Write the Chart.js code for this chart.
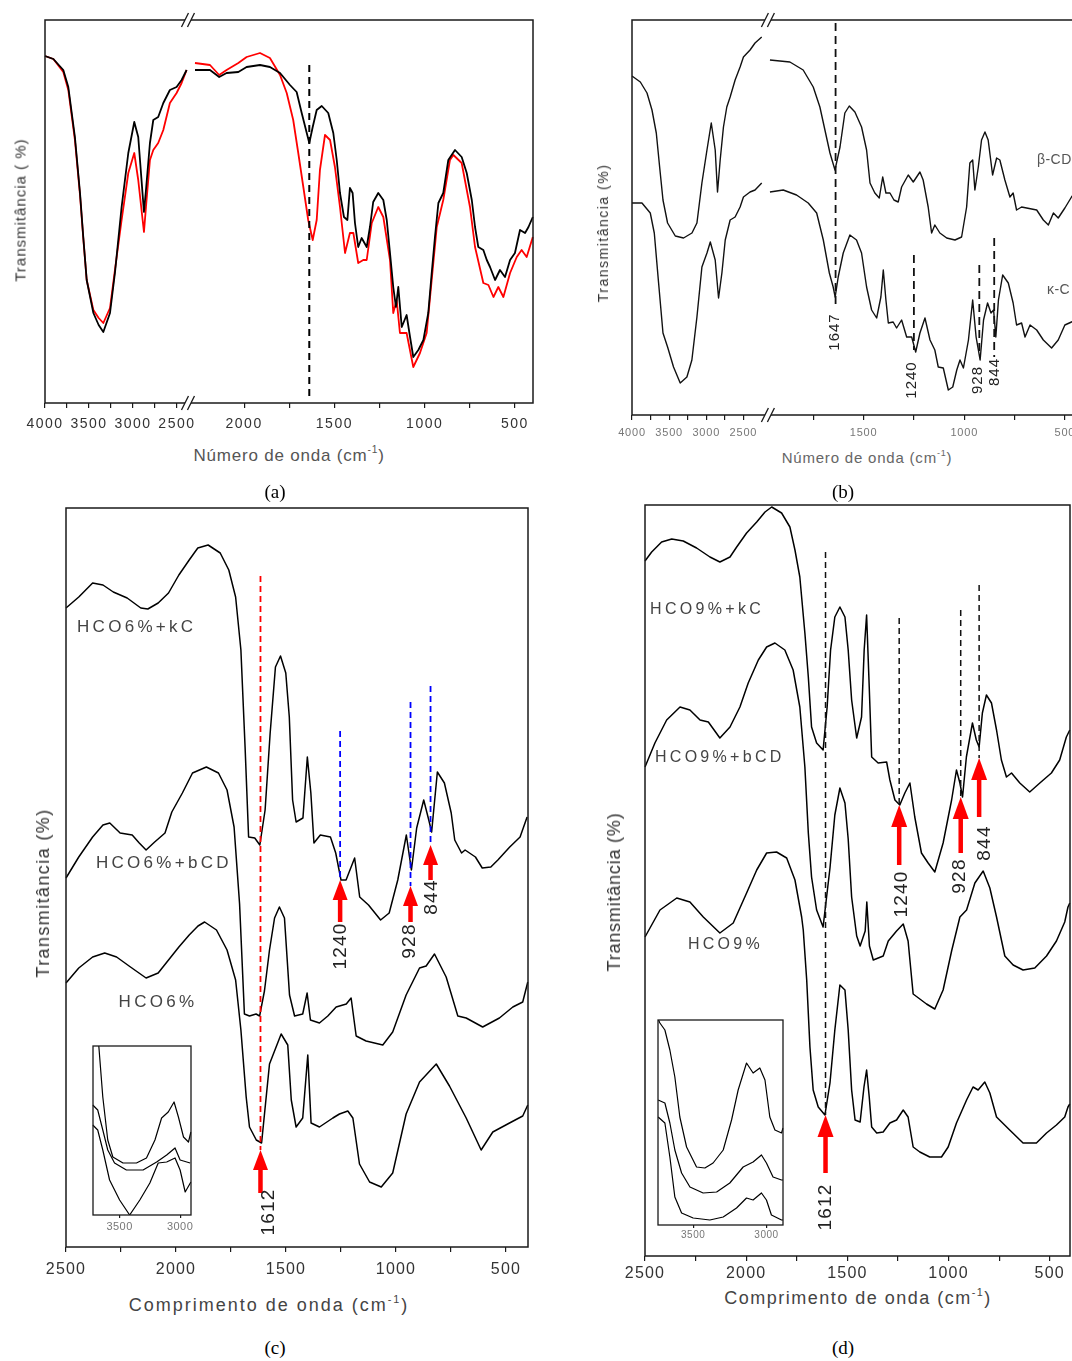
<!DOCTYPE html>
<html lang="pt"><head><meta charset="utf-8"><title>FTIR</title>
<script src="https://cdn.jsdelivr.net/npm/chart.js@4.4.1/dist/chart.umd.min.js"></script>
<style>
html,body{margin:0;padding:0;background:#fff;}
#fig{position:relative;width:1072px;height:1361px;overflow:hidden;background:#fff;}
canvas{position:absolute;}
.t{position:absolute;white-space:nowrap;font-family:"Liberation Sans",Arial,sans-serif;color:#333;line-height:1;transform:translate(-50%,-50%);}
.t sup{font-size:0.6em;line-height:0;vertical-align:0.7em;}
.rot{transform:translate(-50%,-50%) rotate(-90deg);}
.cap{position:absolute;font-family:"Liberation Serif","Times New Roman",serif;font-size:19px;color:#000;line-height:1;transform:translate(-50%,-50%);}
</style></head>
<body><div id="fig">
<canvas id="cA" width="545" height="440" style="left:0px;top:0px"></canvas>
<canvas id="cB" width="530" height="440" style="left:590px;top:0px"></canvas>
<canvas id="cC" width="545" height="800" style="left:0px;top:480px"></canvas>
<canvas id="cD" width="472" height="800" style="left:600px;top:480px"></canvas>
<canvas id="cCi" width="115" height="200" style="left:85px;top:1040px"></canvas>
<canvas id="cDi" width="145" height="240" style="left:650px;top:1010px"></canvas>

<div class="t rot" style="left:20px;top:210px;font-size:15px;letter-spacing:1px">Transmitância ( %)</div>
<div class="t" style="left:289px;top:455px;font-size:17px;color:#555;letter-spacing:0.8px">Número de onda (cm<sup>-1</sup>)</div>
<div class="cap" style="left:275px;top:491px">(a)</div>

<div class="t rot" style="left:603px;top:233px;font-size:14px;letter-spacing:1.5px">Transmitância (%)</div>
<div class="t" style="left:867px;top:457px;font-size:15px;color:#666;letter-spacing:0.8px">Número de onda (cm<sup>-1</sup>)</div>
<div class="cap" style="left:843px;top:491px">(b)</div>

<div class="t rot" style="left:43px;top:893px;font-size:18px;letter-spacing:1.4px">Transmitância (%)</div>
<div class="t" style="left:269px;top:1305px;font-size:18px;color:#444;letter-spacing:2px">Comprimento de onda (cm<sup>-1</sup>)</div>
<div class="cap" style="left:275px;top:1347px">(c)</div>

<div class="t rot" style="left:614px;top:892px;font-size:18px;letter-spacing:0.8px">Transmitância (%)</div>
<div class="t" style="left:858px;top:1298px;font-size:18px;color:#444;letter-spacing:1.5px">Comprimento de onda (cm<sup>-1</sup>)</div>
<div class="cap" style="left:843px;top:1347px">(d)</div>
</div>
<script>
// ================= DATA =================
// ---- panel (a): two spectra, broken wavenumber axis ----
const aTickValues = [4000,3750,3500,3250,3000,2750,2500,2000,1750,1500,1250,1000,750,500];
const aTickLabels = [4000,3500,3000,2500,2000,1500,1000,500];
const aWnLeft = [4000,3905,3792,3735,3660,3602,3565,3526,3450,3390,3337,3261,3205,3129,3053,2985,2940,2875,2852,2807,2769,2713,2655,2580,2504,2447,2390];
const aBlackLeft = [347,344,333,316,266,210,166,123,90,78,71,90,130,196,250,281,266,191,213,260,283,286,300,313,316,323,333];
const aRedLeft = [347,344,331,313,263,208,165,123,93,85,80,95,133,183,230,250,223,171,196,243,253,260,273,300,310,320,333];
const aWnRightBlack = [2272,2189,2138,2097,2032,1986,1912,1857,1801,1746,1709,1681,1653,1639,1620,1598,1570,1534,1506,1487,1469,1447,1428,1414,1399,1386,1368,1349,1321,1303,1285,1257,1229,1210,1192,1174,1159,1146,1127,1100,1081,1063,1035,1007,980,961,943,924,897,869,832,795,767,739,721,703,675,656,638,610,583,555,527,500,472,444,425,401];
const aBlackRight = [333,333,326,330,331,336,338,336,330,318,311,290,270,260,276,293,297,290,270,243,210,186,183,215,210,180,156,165,156,176,201,210,203,183,150,116,96,116,76,88,66,46,53,63,90,130,166,200,210,243,253,246,230,203,176,156,153,143,136,123,133,126,143,150,173,170,176,186];
const aWnRightRed = [2272,2189,2138,2097,2032,1986,1912,1857,1801,1764,1728,1700,1672,1645,1620,1598,1580,1552,1524,1497,1469,1441,1414,1395,1368,1340,1321,1293,1257,1229,1192,1174,1155,1137,1100,1063,1026,989,961,933,897,860,841,795,749,721,675,647,619,592,564,527,490,463,435,401];
const aRedRight = [340,338,328,333,340,346,350,345,328,310,283,250,216,183,163,183,233,268,263,236,196,150,170,170,140,143,143,180,196,186,143,90,103,70,70,36,50,70,123,176,203,243,248,240,196,156,120,118,106,116,106,130,146,153,146,166];
const aMarkWn = [1639], aMarkTop = [338], aMarkBottom = [6];

// ---- panel (b): beta-CD and kappa-C ----
const bTickValues = [4000,3750,3500,3250,3000,2750,2500,1750,1500,1250,1000,750,500];
const bTickLabels = [4000,3500,3000,2500,1500,1000,500];
const bWnBetaLeft = [4000,3888,3798,3731,3673,3628,3583,3521,3417,3306,3193,3126,3059,2991,2933,2880,2849,2813,2769,2724,2679,2612,2545,2500,2411,2344,2254];
const bBetaLeft = [339,333,322,305,282,248,215,192,179,177,182,192,232,265,292,265,223,255,288,308,318,335,348,358,365,372,378];
const bWnBetaRight = [1965,1866,1800,1750,1717,1692,1667,1642,1617,1593,1571,1543,1510,1485,1468,1444,1422,1405,1389,1369,1349,1328,1311,1278,1253,1220,1204,1179,1162,1146,1121,1087,1046,1013,988,972,958,947,930,914,897,881,859,839,823,798,773,757,740,715,690,640,607,582,557,533,500,467,420];
const bBetaRight = [355,353,345,328,308,285,262,245,268,302,309,303,288,265,232,222,217,238,222,222,215,213,228,240,233,243,235,208,182,190,182,177,175,178,208,252,255,225,248,275,283,275,240,257,255,235,218,222,205,208,207,205,195,190,202,197,207,218,230];
const bWnKappaLeft = [4000,3866,3754,3700,3642,3583,3521,3441,3351,3261,3194,3126,3059,2991,2946,2880,2835,2790,2745,2679,2612,2545,2500,2411,2344,2254];
const bKappaLeft = [212,212,202,182,132,82,68,48,32,38,55,98,148,162,173,155,117,142,175,195,198,208,218,223,225,232];
const bWnKappaRight = [1965,1899,1833,1775,1733,1700,1670,1651,1641,1626,1601,1568,1535,1510,1485,1460,1435,1414,1402,1389,1377,1353,1336,1311,1286,1261,1241,1220,1195,1170,1146,1129,1104,1079,1057,1037,1021,1004,979,958,941,921,904,884,867,854,843,830,809,781,757,740,715,698,673,640,607,566,533,500,467,420];
const bKappaRight = [223,225,220,212,202,175,142,128,118,138,162,180,175,162,128,105,97,118,145,115,92,93,87,95,78,78,63,82,97,75,65,48,47,25,28,45,55,47,75,115,78,55,95,112,102,105,78,115,140,132,112,90,92,78,90,85,75,67,75,90,93,100];
const bMarkWn = [1639,1250,925,851], bMarkTop = [392,160,150,177], bMarkBottom = [108,65,62,58];
const bPeakLabels = ['1647','1240','928','844'], bPeakLabelWn = [1642,1260,932,847], bPeakLabelVal = [83,35,35,43];
const bNames = ['β-CD','κ-C'], bNameWn = [639,589], bNameVal = [255,125];

// ---- panel (c): HCO 6% films ----
const cdTickValues = [2500,2250,2000,1750,1500,1250,1000,750,500];
const cdTickLabels = [2500,2000,1500,1000,500];
const cWnA = [2500,2442,2379,2332,2285,2222,2160,2128,2081,2034,1987,1940,1901,1854,1799,1760,1729,1705,1686,1670,1642,1619,1595,1572,1548,1525,1501,1485,1470,1454,1423,1403,1387,1373,1344,1298,1274,1250,1227,1188,1165,1125,1070,1031,992,953,930,906,874,851,838,812,780,749,733,702,686,639,608,569,537,483,436,404];
const cA = [639,650,664,662,655,649,639,638,644,654,672,687,699,702,694,677,650,597,500,410,409,402,437,514,580,591,574,530,447,425,429,490,454,404,412,410,394,367,367,389,350,342,327,334,367,412,377,419,447,427,415,475,464,434,407,394,397,390,379,380,387,400,410,430];
const cWnB = [2500,2442,2379,2332,2301,2254,2199,2167,2136,2097,2050,2019,1971,1925,1862,1807,1768,1736,1711,1689,1666,1636,1620,1598,1575,1552,1530,1507,1484,1461,1424,1404,1389,1348,1310,1272,1226,1204,1181,1136,1060,1015,954,893,863,825,772,719,681,606,530,469,424,401];
const cB = [369,390,410,422,424,414,412,404,397,405,414,435,454,474,480,474,457,420,343,233,231,233,231,256,297,329,340,329,252,231,233,254,227,224,231,240,243,249,211,206,202,215,252,279,281,293,270,231,229,220,229,240,245,265];
const cWnC = [2500,2442,2379,2324,2270,2207,2136,2081,2034,1987,1940,1900,1870,1816,1768,1729,1705,1681,1666,1635,1611,1575,1522,1492,1476,1454,1424,1401,1386,1348,1287,1257,1219,1196,1166,1120,1067,1015,954,893,817,757,681,613,560,484,424,401];
const cC = [264,279,290,294,290,280,269,274,287,300,312,321,325,317,297,267,217,150,120,107,104,183,213,202,147,120,129,192,124,120,129,133,136,129,83,65,60,74,133,165,183,161,129,97,115,124,131,142];
const cNames = ['HCO6%+kC','HCO6%+bCD','HCO6%'], cNameWn = [2450,2364,2261], cNameVal = [620,384,245];
const peakLabels = ['1612','1240','928','844'];
const cMarkWn = [1616,1254,934,843], cMarkTop = [671,516,545,561];
const cArrowTip = [97,367,361,402], cArrowTail = [54,325,325,367];
const cLabelWn = [1580,1252,939,836], cLabelVal = [35,301,306,350];
// inset (c): 3700-2900 cm-1 region
const ciTickValues = [3500,3000], ciTickLabels = [3500,3000];
const ciWn1 = [3700,3672,3639,3598,3556,3472,3361,3278,3208,3153,3098,3050,3014,2972,2931,2911];
const ciS1 = [212,169,118,75,58,52,52,57,75,97,103,113,98,78,73,83];
const ciWn2 = [3722,3681,3639,3598,3542,3444,3306,3194,3111,3042,3000,2917];
const ciS2 = [110,105,85,65,52,45,45,53,60,67,55,52];
const ciWn3 = [3722,3681,3639,3583,3500,3417,3333,3250,3181,3111,3042,3000,2958,2911];
const ciS3 = [90,85,65,35,15,0,15,32,52,53,57,45,23,33];

// ---- panel (d): HCO 9% films ----
const dWnA = [2500,2467,2418,2368,2311,2245,2179,2130,2080,2047,1998,1948,1907,1874,1825,1784,1759,1735,1710,1693,1677,1652,1620,1600,1583,1562,1537,1512,1496,1479,1454,1430,1417,1405,1392,1380,1348,1306,1290,1265,1241,1216,1191,1167,1134,1101,1068,1027,985,961,944,931,912,882,863,849,833,813,788,763,739,714,689,648,599,549,492,451,418,401];
const dA = [695,704,714,717,715,708,699,694,699,709,723,734,744,749,743,729,706,679,623,579,529,513,506,549,606,639,649,639,606,556,518,539,606,641,569,499,493,494,476,456,451,463,473,439,403,393,384,413,456,486,473,459,499,533,516,509,543,561,553,526,496,479,483,473,464,473,483,496,519,526];
const dWnB = [2500,2451,2393,2327,2278,2228,2187,2130,2080,2031,1990,1940,1899,1858,1809,1768,1735,1710,1693,1677,1652,1620,1586,1562,1537,1512,1496,1479,1454,1437,1412,1404,1391,1372,1323,1298,1257,1224,1200,1175,1142,1109,1068,1027,985,944,911,870,829,796,763,722,681,632,574,516,467,426,410,401];
const dB = [489,513,536,549,546,536,534,518,529,549,573,596,609,613,606,586,549,489,423,379,346,329,388,441,468,453,417,359,320,310,325,354,310,296,300,315,325,332,315,262,257,252,247,266,305,339,346,373,385,368,339,300,291,286,288,300,315,334,349,353];
const dWnC = [2500,2426,2343,2278,2212,2130,2064,1998,1948,1899,1850,1800,1759,1726,1718,1701,1685,1669,1644,1611,1586,1562,1537,1512,1496,1479,1462,1437,1418,1405,1392,1380,1355,1323,1290,1257,1224,1200,1175,1142,1093,1035,1002,961,911,879,854,821,796,763,698,632,566,516,467,426,410,401];
const dC = [319,346,358,354,339,323,333,363,386,403,404,398,376,339,326,276,209,166,149,141,173,226,271,266,226,166,136,134,169,186,159,129,123,124,133,136,146,139,109,104,99,99,109,133,156,169,166,174,163,139,126,113,113,123,131,139,149,152];
const dNames = ['HCO9%+kC','HCO9%+bCD','HCO9%'], dNameWn = [2475,2451,2288], dNameVal = [646,498,311];
const dMarkWn = [1608,1244,940,849], dMarkTop = [704,638,646,671];
const dArrowTip = [141,451,459,498], dArrowTail = [83,391,403,439];
const dLabelWn = [1606,1231,944,821], dLabelVal = [49,362,380,413];
// inset (d)
const diTickValues = [3500,3000], diTickLabels = [3500,3000];
const diWn1 = [3740,3727,3693,3659,3625,3591,3545,3477,3420,3364,3295,3238,3193,3136,3091,3045,3010,2977,2942,2897,2887];
const diS1 = [206,202,195,175,148,108,78,58,57,62,75,105,135,162,152,157,145,108,95,92,97];
const diWn2 = [3739,3693,3659,3625,3579,3522,3432,3340,3250,3159,3091,3034,3000,2955,2897,2887];
const diS2 = [125,122,102,75,52,38,32,33,42,58,63,70,62,48,45,45];
const diWn3 = [3739,3693,3659,3625,3579,3500,3386,3295,3204,3136,3091,3034,3000,2966,2897,2887];
const diS3 = [108,102,68,28,12,7,5,8,17,27,25,32,25,10,5,5];

// ================= AXES (layout of broken wavenumber axes) =================
const AXES = {
  a:  {segs:[{from:4000,to:2380,start:0,end:0.292},{from:2300,to:400,start:0.297,end:1}], ticks:aTickValues, labels:aTickLabels, breakAt:0.293},
  b:  {segs:[{from:4000,to:2250,start:0,end:0.287},{from:2000,to:400,start:0.289,end:1}], ticks:bTickValues, labels:bTickLabels, breakAt:0.300},
  c:  {segs:[{from:2500,to:400,start:0,end:1}], ticks:cdTickValues, labels:cdTickLabels},
  d:  {segs:[{from:2500,to:400,start:0,end:1}], ticks:cdTickValues, labels:cdTickLabels},
  ci: {segs:[{from:3720,to:2910,start:0,end:1}], ticks:ciTickValues, labels:ciTickLabels},
  di: {segs:[{from:3740,to:2887,start:0,end:1}], ticks:diTickValues, labels:diTickLabels}
};

class BrokenScale extends Chart.LinearScale {
  static id = 'broken';
  static defaults = {};
  _ax() { return AXES[this.options.axisKey]; }
  determineDataLimits() {
    let mn = Infinity, mx = -Infinity;
    this._ax().segs.forEach(s => { mn = Math.min(mn, s.from, s.to); mx = Math.max(mx, s.from, s.to); });
    this.min = mn; this.max = mx;
  }
  buildTicks() { return this._ax().ticks.map(v => ({value: v})); }
  getPixelForValue(value) {
    const segs = this._ax().segs;
    let seg = null;
    for (const s of segs) { if (value >= Math.min(s.from, s.to) && value <= Math.max(s.from, s.to)) { seg = s; break; } }
    if (!seg) {
      let d = Infinity;
      for (const s of segs) { const dd = Math.min(Math.abs(value - s.from), Math.abs(value - s.to)); if (dd < d) { d = dd; seg = s; } }
    }
    const f = (value - seg.from) / (seg.to - seg.from);
    return this.left + (seg.start + f * (seg.end - seg.start)) * this.width;
  }
  getValueForPixel(pixel) {
    const p = (pixel - this.left) / this.width;
    for (const s of this._ax().segs) { if (p >= s.start && p <= s.end) return s.from + (p - s.start) / (s.end - s.start) * (s.to - s.from); }
    return null;
  }
}
Chart.register(BrokenScale);

function pts(wn, vals) { return wn.map((x, i) => ({x: x, y: vals[i]})); }
function joinGap(a, b) { return a.concat([{x: (a[a.length-1].x + b[0].x) / 2, y: null}], b); }

function decoPlugin(cfg) {
  return {
    id: 'deco',
    beforeDraw(chart) {
      if ('letterSpacing' in chart.ctx) chart.ctx.letterSpacing = (cfg.tickLs || 0) + 'px';
    },
    afterDatasetsDraw(chart) {
      const ctx = chart.ctx, xs = chart.scales.x, ys = chart.scales.y, ca = chart.chartArea;
      ctx.save();
      (cfg.lines || []).forEach(l => {
        const x = xs.getPixelForValue(l.wn);
        ctx.beginPath(); ctx.setLineDash(l.dash); ctx.strokeStyle = l.color; ctx.lineWidth = l.width;
        ctx.moveTo(x, ys.getPixelForValue(l.from)); ctx.lineTo(x, ys.getPixelForValue(l.to)); ctx.stroke();
      });
      ctx.setLineDash([]);
      (cfg.arrows || []).forEach(a => {
        const x = xs.getPixelForValue(a.wn), yt = ys.getPixelForValue(a.tip), yb = ys.getPixelForValue(a.tail);
        ctx.fillStyle = a.color;
        ctx.fillRect(x - a.shaft / 2, yt + a.head - 1, a.shaft, Math.max(yb - yt - a.head + 1, 0));
        ctx.beginPath(); ctx.moveTo(x, yt); ctx.lineTo(x + a.half, yt + a.head); ctx.lineTo(x - a.half, yt + a.head); ctx.closePath(); ctx.fill();
      });
      (cfg.texts || []).forEach(t => {
        const x = xs.getPixelForValue(t.wn), y = ys.getPixelForValue(t.val);
        ctx.save(); ctx.font = t.font; ctx.fillStyle = t.color;
        if ('letterSpacing' in ctx) ctx.letterSpacing = (t.ls || 0) + 'px';
        ctx.textBaseline = 'middle';
        if (t.rotate) { ctx.translate(x, y); ctx.rotate(-Math.PI / 2); ctx.textAlign = 'center'; ctx.fillText(t.text, 0, 0); }
        else { ctx.textAlign = 'left'; ctx.fillText(t.text, x, y); }
        ctx.restore();
      });
      ctx.strokeStyle = '#1a1a1a'; ctx.lineWidth = cfg.frame;
      ctx.strokeRect(ca.left, ca.top, ca.right - ca.left, ca.bottom - ca.top);
      const ax = AXES[cfg.axisKey];
      if (ax.breakAt !== undefined) {
        const xb = ca.left + ax.breakAt * (ca.right - ca.left);
        [ca.top, ca.bottom].forEach(yy => {
          ctx.fillStyle = '#fff'; ctx.fillRect(xb - 3, yy - 2, 6, 4);
          ctx.strokeStyle = '#1a1a1a'; ctx.lineWidth = 1.3;
          [-3, 3].forEach(dx => { ctx.beginPath(); ctx.moveTo(xb + dx - 3.5, yy + 7); ctx.lineTo(xb + dx + 3.5, yy - 7); ctx.stroke(); });
        });
      }
      ctx.restore();
    }
  };
}

function makeChart(id, cfg) {
  const ax = AXES[cfg.axisKey];
  return new Chart(document.getElementById(id), {
    type: 'line',
    data: {datasets: cfg.datasets.map(d => Object.assign({fill: false, pointRadius: 0, spanGaps: false, borderJoinStyle: 'round', tension: 0}, d))},
    options: {
      responsive: false, animation: false, events: [],
      layout: {padding: cfg.pad},
      plugins: {legend: {display: false}, tooltip: {enabled: false}, title: {display: false}},
      scales: {
        x: {type: 'broken', axisKey: cfg.axisKey, position: 'bottom',
            afterFit: s => { s.height = cfg.axisH; },
            ticks: {autoSkip: false, maxRotation: 0, minRotation: 0, padding: cfg.tickPad, color: cfg.tickColor,
                    font: {family: 'Liberation Sans', size: cfg.tickSize},
                    callback: v => ax.labels.includes(v) ? String(v) : ''},
            grid: {drawOnChartArea: false, drawTicks: true, tickLength: cfg.tickLen || 5, color: '#1a1a1a', lineWidth: 1.2},
            border: {display: false}},
        y: {type: 'linear', display: false, min: 0, max: cfg.ymax}
      }
    },
    plugins: [decoPlugin(Object.assign({axisKey: cfg.axisKey, frame: cfg.frame || 1.5, tickLs: cfg.tickLs || 0}, cfg.deco))]
  });
}

// ---------- panel (a) ----------
makeChart('cA', {
  axisKey: 'a', pad: {left: 45, top: 20, right: 12, bottom: 0}, axisH: 37, ymax: 383,
  tickPad: 8, tickSize: 14, tickColor: '#333', tickLs: 1.5,
  datasets: [
    {data: joinGap(pts(aWnLeft, aBlackLeft), pts(aWnRightBlack, aBlackRight)), borderColor: '#000', borderWidth: 1.8},
    {data: joinGap(pts(aWnLeft, aRedLeft), pts(aWnRightRed, aRedRight)), borderColor: '#ff0000', borderWidth: 1.8}
  ],
  deco: {lines: aMarkWn.map((w, i) => ({wn: w, from: aMarkTop[i], to: aMarkBottom[i], color: '#000', width: 2, dash: [7, 5]}))}
});

// ---------- panel (b) ----------
makeChart('cB', {
  axisKey: 'b', pad: {left: 42, top: 20, right: 35, bottom: 0}, axisH: 25, ymax: 395,
  tickPad: 6, tickSize: 11, tickColor: '#777', tickLs: 0.8,
  datasets: [
    {data: joinGap(pts(bWnBetaLeft, bBetaLeft), pts(bWnBetaRight, bBetaRight)), borderColor: '#111', borderWidth: 1.4},
    {data: joinGap(pts(bWnKappaLeft, bKappaLeft), pts(bWnKappaRight, bKappaRight)), borderColor: '#111', borderWidth: 1.4}
  ],
  deco: {
    lines: bMarkWn.map((w, i) => ({wn: w, from: bMarkTop[i], to: bMarkBottom[i], color: '#111', width: 1.8, dash: [8, 5]})),
    texts: bPeakLabels.map((t, i) => ({text: t, wn: bPeakLabelWn[i], val: bPeakLabelVal[i], rotate: true, font: '15px "Liberation Sans"', color: '#222', ls: 1}))
      .concat(bNames.map((t, i) => ({text: t, wn: bNameWn[i], val: bNameVal[i], font: '14px "Liberation Sans"', color: '#555', ls: 0.5})))
  }
});

// ---------- panel (c) ----------
makeChart('cC', {
  axisKey: 'c', pad: {left: 66, top: 28, right: 17, bottom: 0}, axisH: 33, ymax: 739,
  tickPad: 8, tickSize: 16, tickColor: '#333', tickLs: 1.2,
  datasets: [
    {data: pts(cWnA, cA), borderColor: '#000', borderWidth: 1.5},
    {data: pts(cWnB, cB), borderColor: '#000', borderWidth: 1.5},
    {data: pts(cWnC, cC), borderColor: '#000', borderWidth: 1.5}
  ],
  deco: {
    lines: cMarkWn.map((w, i) => ({wn: w, from: cMarkTop[i], to: cArrowTip[i], color: i === 0 ? '#ff0000' : '#0000ff', width: 1.8, dash: [6, 4]})),
    arrows: cMarkWn.map((w, i) => ({wn: w, tip: cArrowTip[i], tail: cArrowTail[i], color: '#ff0000', head: 20, half: 7.5, shaft: 4.5})),
    texts: peakLabels.map((t, i) => ({text: t, wn: cLabelWn[i], val: cLabelVal[i], rotate: true, font: '19px "Liberation Sans"', color: '#222', ls: 1.2}))
      .concat(cNames.map((t, i) => ({text: t, wn: cNameWn[i], val: cNameVal[i], font: '17px "Liberation Sans"', color: '#444', ls: 3.3})))
  }
});
makeChart('cCi', {
  axisKey: 'ci', pad: {left: 8, top: 6, right: 9, bottom: 0}, axisH: 25, ymax: 169,
  tickPad: 2, tickSize: 11, tickColor: '#777', tickLen: 3, frame: 1.3, tickLs: 0.5,
  datasets: [
    {data: pts(ciWn1, ciS1), borderColor: '#000', borderWidth: 1.2},
    {data: pts(ciWn2, ciS2), borderColor: '#000', borderWidth: 1.2},
    {data: pts(ciWn3, ciS3), borderColor: '#000', borderWidth: 1.2}
  ],
  deco: {}
});

// ---------- panel (d) ----------
makeChart('cD', {
  axisKey: 'd', pad: {left: 45, top: 25, right: 2, bottom: 0}, axisH: 24, ymax: 751,
  tickPad: 3, tickSize: 16, tickColor: '#333', tickLs: 1.2,
  datasets: [
    {data: pts(dWnA, dA), borderColor: '#000', borderWidth: 1.5},
    {data: pts(dWnB, dB), borderColor: '#000', borderWidth: 1.5},
    {data: pts(dWnC, dC), borderColor: '#000', borderWidth: 1.5}
  ],
  deco: {
    lines: dMarkWn.map((w, i) => ({wn: w, from: dMarkTop[i], to: dArrowTip[i], color: '#111', width: 1.5, dash: [6, 4]})),
    arrows: dMarkWn.map((w, i) => ({wn: w, tip: dArrowTip[i], tail: dArrowTail[i], color: '#ff0000', head: 22, half: 8, shaft: 4.5})),
    texts: peakLabels.map((t, i) => ({text: t, wn: dLabelWn[i], val: dLabelVal[i], rotate: true, font: '19px "Liberation Sans"', color: '#222', ls: 1.2}))
      .concat(dNames.map((t, i) => ({text: t, wn: dNameWn[i], val: dNameVal[i], font: '16px "Liberation Sans"', color: '#444', ls: 3.3})))
  }
});
makeChart('cDi', {
  axisKey: 'di', pad: {left: 8, top: 10, right: 12, bottom: 0}, axisH: 25, ymax: 205,
  tickPad: 1, tickSize: 10, tickColor: '#777', tickLen: 3, frame: 1.3, tickLs: 0.5,
  datasets: [
    {data: pts(diWn1, diS1), borderColor: '#000', borderWidth: 1.2},
    {data: pts(diWn2, diS2), borderColor: '#000', borderWidth: 1.2},
    {data: pts(diWn3, diS3), borderColor: '#000', borderWidth: 1.2}
  ],
  deco: {}
});
</script>
</body></html>
